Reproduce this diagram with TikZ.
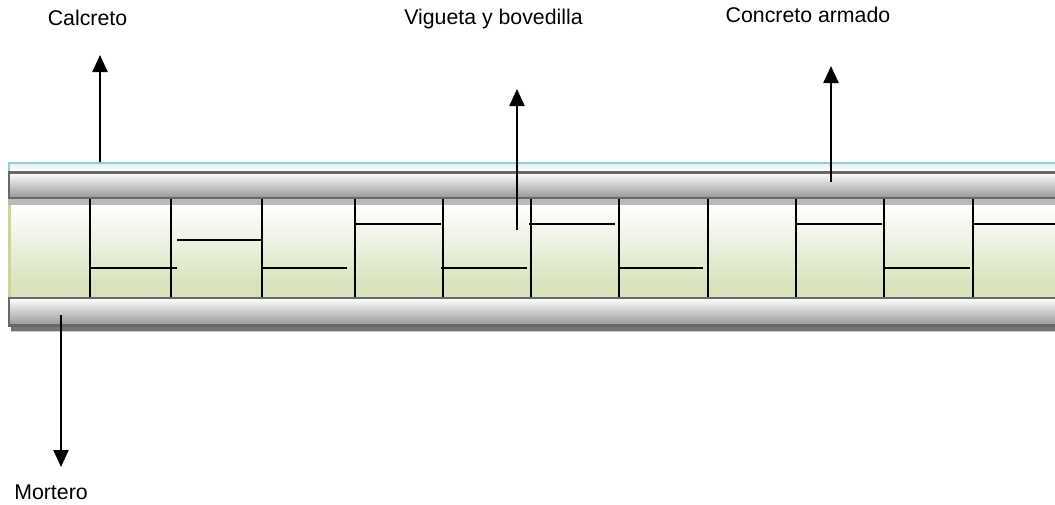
\documentclass[tikz,border=0pt]{standalone}
\usepackage{fontspec}
\setmainfont{Liberation Sans}
\usetikzlibrary{arrows.meta}
\definecolor{bandgray}{HTML}{969696}
\definecolor{bandedge}{HTML}{686868}
\definecolor{leafgreen}{HTML}{D6E3BC}
\definecolor{skyblue}{HTML}{92CDDC}
\definecolor{skypale}{HTML}{DAEEF3}
\tikzset{band/.style = {draw = bandedge, line width = 2.5pt, top color = white, bottom color = bandgray}}
\tikzset{rib/.style = {line width = 1.6pt, black}}
\tikzset{pointer/.style = {line width = 2.3pt, black, -{Triangle[length = 17pt, width = 15pt]}}}
\tikzset{label/.style = {anchor = base, inner sep = 0, font = \fontsize{21.3pt}{25pt}\selectfont, text = black}}
\begin{document}
\begin{tikzpicture}[x = 1pt, y = -1pt]
    \useasboundingbox (0, 0) rectangle (1055, 504);
    % top layer
    \fill [top color = skypale, bottom color = white] (8, 162) rectangle (1055, 171);
    \draw [skyblue, line width = 2.2pt] (9, 171) -- (9, 163) -- (1055, 163);
    % block
    \fill [top color = white, bottom color = leafgreen] (8, 205) rectangle (1055, 285);
    \fill [leafgreen] (8, 285) rectangle (1055, 297);
    \fill [leafgreen!85!olive] (8, 199) rectangle (10.5, 297);
    \fill [black!27] (8, 199) rectangle (1055, 205);
    % bands
    \fill [black!20] (11, 330) rectangle (1055, 332);
    \fill [black!55] (11, 326) rectangle (1055, 331);
    \draw [band] (9.2, 172.5) rectangle (1060, 198);
    \draw [band] (9.2, 298) rectangle (1060, 325.5);
    % ribs
    \foreach \x in {90, 171, 262, 355, 443, 531, 619, 708, 796, 884, 973}
      \draw [rib] (\x, 199) -- (\x, 297);
    \foreach \a/\b/\y in {90/177/268, 177/262/240, 262/347/268, 355/441/224, 441/527/268,
                          529/615/224, 618/703/268, 796/882/224, 885/970/268, 973/1055/224}
      \draw [rib] (\a, \y) -- (\b, \y);
    % labels
    \node [label] (calcreto) at (87.5, 25) {Calcreto};
    \node [label] (vigueta) at (493.5, 24) {Vigueta y bovedilla};
    \node [label] (concreto) at (808, 22) {Concreto armado};
    \node [label] (mortero) at (51, 499.5) {Mortero};
    % pointers
    \coordinate (calcretofoot) at (100, 162);
    \coordinate (calcretotip) at (100, 55);
    \coordinate (viguetafoot) at (517, 230);
    \coordinate (viguetatip) at (517, 89);
    \coordinate (concretofoot) at (831, 182);
    \coordinate (concretotip) at (831, 66);
    \coordinate (morterofoot) at (61, 315);
    \coordinate (morterotip) at (61, 467);
    \draw [pointer] (calcretofoot) -- (calcretotip);
    \draw [pointer] (viguetafoot) -- (viguetatip);
    \draw [pointer] (concretofoot) -- (concretotip);
    \draw [pointer] (morterofoot) -- (morterotip);
\end{tikzpicture}
\end{document}
